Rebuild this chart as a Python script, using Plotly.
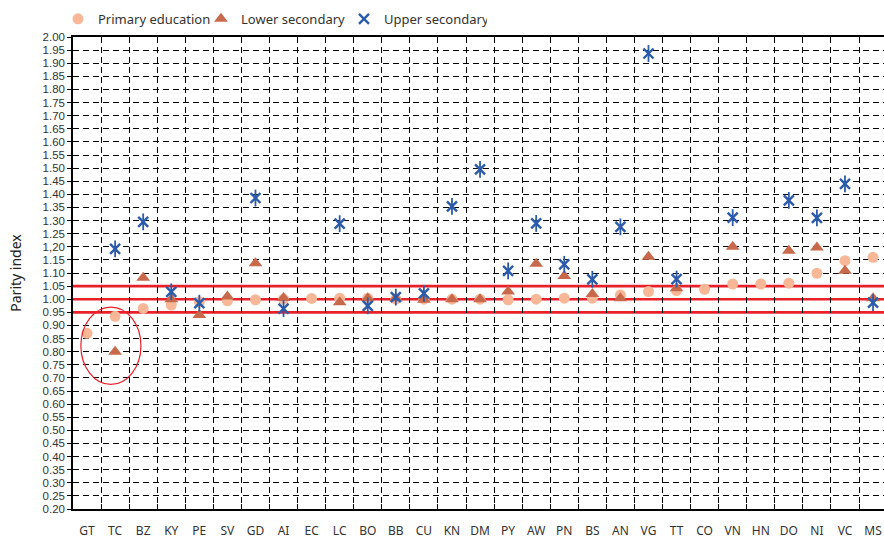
import plotly.graph_objects as go

countries = ["GT", "TC", "BZ", "KY", "PE", "SV", "GD", "AI", "EC", "LC", "BO", "BB", "CU", "KN", "DM",
             "PY", "AW", "PN", "BS", "AN", "VG", "TT", "CO", "VN", "HN", "DO", "NI", "VC", "MS"]

primary = [0.87, 0.935, 0.965, 0.978, 0.99, 0.994, 0.998, 1.00, 1.003, 1.004, 1.004, 1.00, 1.00, 1.00, 1.00,
           0.998, 1.00, 1.004, 1.004, 1.016, 1.029, 1.033, 1.038, 1.058, 1.058, 1.061, 1.099, 1.147, 1.16]

lower = [None, 0.80, 1.082, 1.00, 0.94, 1.01, 1.137, 1.005, None, 0.988, 1.004, 1.004, 0.998, 1.00, 1.00,
         1.029, 1.135, 1.089, 1.02, 1.004, 1.162, 1.042, None, 1.20, None, 1.185, 1.197, 1.109, 1.004]

upper = [None, 1.192, 1.295, 1.028, 0.985, None, 1.386, 0.964, None, 1.288, 0.975, 1.008, 1.022, 1.354, 1.495,
         1.108, 1.289, 1.133, 1.076, 1.276, 1.937, 1.077, None, 1.311, None, 1.377, 1.31, 1.44, 0.987]

parity_lines = [0.95, 1.00, 1.05]

ytick_vals = [round(0.20 + 0.05 * i, 2) for i in range(37)]
ytick_text = [f"{v:.2f}" for v in ytick_vals]
ytick_text[ytick_vals.index(1.20)] = "1,20"
ygrid_vals = [v for v in ytick_vals if v not in parity_lines]

C_PRIM = "#F8B898"
C_LOW = "#C8694B"
C_UP = "#2B5BAA"

FONT = "Noto Sans, Open Sans, sans-serif"
TICKFONT = "Liberation Sans, Arial, sans-serif"

fig = go.Figure()

fig.add_trace(go.Scatter(x=countries, y=primary, mode="markers", name="Primary education",
                         marker=dict(symbol="circle", size=11, color=C_PRIM)))
fig.add_trace(go.Scatter(x=countries, y=lower, mode="markers", name="Lower secondary",
                         marker=dict(symbol="triangle-up", size=12, color=C_LOW)))
fig.add_trace(go.Scatter(x=countries, y=upper, mode="markers", name="Upper secondary",
                         marker=dict(symbol="x-thin-open", size=10, color=C_UP,
                                     line=dict(color=C_UP, width=2.4))))
fig.add_trace(go.Scatter(x=countries, y=upper, mode="markers", showlegend=False, hoverinfo="skip",
                         marker=dict(symbol="line-ns-open", size=12, color=C_UP,
                                     line=dict(color=C_UP, width=1.8))))

for v in parity_lines:
    fig.add_shape(type="line", xref="paper", yref="y", x0=0, x1=1, y0=v, y1=v,
                  line=dict(color="#E8202A", width=2.6), layer="between")

fig.add_shape(type="circle", xref="x", yref="y", x0=-0.22, x1=1.92, y0=0.675, y1=0.97,
              line=dict(color="#E8202A", width=1.2), layer="above")

grid_dash = "6px,4px"
fig.update_layout(
    width=884, height=540,
    margin=dict(l=73, r=0, t=37, b=31),
    paper_bgcolor="white", plot_bgcolor="white",
    font=dict(family=FONT, size=11, color="#333333"),
    legend=dict(orientation="h", x=0.0656, xanchor="left", xref="container",
                y=0.965, yanchor="middle", yref="container", entrywidth=98,
                font=dict(family=FONT, size=13, color="#333333"), itemwidth=30, tracegroupgap=0,
                bgcolor="rgba(0,0,0,0)"),
    xaxis=dict(
        type="category", categoryorder="array", categoryarray=countries,
        range=[-0.5, 28.39], tickson="boundaries", ticks="inside", ticklen=5,
        tickcolor="black", showgrid=True, gridcolor="black", gridwidth=1, griddash=grid_dash,
        showline=True, linecolor="black", linewidth=1.5, mirror=True, tickangle=0,
        ticklabelstandoff=10, tickfont=dict(family=FONT, size=12, color="#333333"),
        zeroline=False, automargin=False,
    ),
    yaxis=dict(
        range=[0.2, 2.0], tickmode="array", tickvals=ytick_vals, ticktext=ytick_text,
        ticks="outside", ticklen=4, tickcolor="black", showgrid=False,
        minor=dict(tickmode="array", tickvals=ygrid_vals, showgrid=True, gridcolor="black",
                   gridwidth=1, griddash=grid_dash, ticks=""),
        showline=True, linecolor="black", linewidth=1.5, zeroline=False, automargin=False,
        tickfont=dict(family=TICKFONT, size=11.5, color="#333333"),
        title=dict(text="Parity index", font=dict(family=FONT, size=14, color="#222222"), standoff=18),
    ),
)

fig.write_html("out.html", config={"displayModeBar": False},
               post_script="document.body.style.margin='0px';document.body.style.overflow='hidden';")
